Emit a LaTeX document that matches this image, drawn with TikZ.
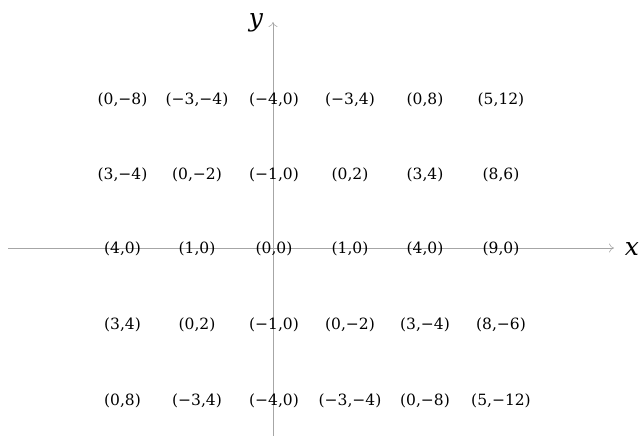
\documentclass[tikz,border=0pt]{standalone}
\usepackage{fontspec}
\newfontfamily\valfont{DejaVu Serif}
\usetikzlibrary{arrows.meta}
\begin{document}
\begin{tikzpicture}[x=1pt,y=-1pt,
  axis/.style={draw=black!35, line width=0.6pt, -{To[length=5pt,width=9pt]}},
  val/.style={font=\valfont\fontsize{15.5}{18}\selectfont, inner sep=0pt},
  axlab/.style={font=\valfont\itshape\fontsize{25}{28}\selectfont, inner sep=0pt}]
\useasboundingbox (0,0) rectangle (640,436);
\coordinate (xs) at (8,248);
\coordinate (xe) at (614,248);
\coordinate (ys) at (273,436);
\coordinate (ye) at (273,22);
\draw[axis] (xs) -- (xe);
\draw[axis] (ys) -- (ye);
\node[axlab] (xl) at (632,249) {x};
\node[axlab] (yl) at (256,23) {y};
% row 1
\node[val] (a11) at (122.5,100) {(0,−8)};
\node[val] (a12) at (197,100) {(−3,−4)};
\node[val] (a13) at (274,100) {(−4,0)};
\node[val] (a14) at (350,100) {(−3,4)};
\node[val] (a15) at (425,100) {(0,8)};
\node[val] (a16) at (501,100) {(5,12)};
% row 2
\node[val] (a21) at (122.5,175) {(3,−4)};
\node[val] (a22) at (197,175) {(0,−2)};
\node[val] (a23) at (274,175) {(−1,0)};
\node[val] (a24) at (350,175) {(0,2)};
\node[val] (a25) at (425,175) {(3,4)};
\node[val] (a26) at (501,175) {(8,6)};
% row 3
\node[val] (a31) at (122.5,249) {(4,0)};
\node[val] (a32) at (197,249) {(1,0)};
\node[val] (a33) at (274,249) {(0,0)};
\node[val] (a34) at (350,249) {(1,0)};
\node[val] (a35) at (425,249) {(4,0)};
\node[val] (a36) at (501,249) {(9,0)};
% row 4
\node[val] (a41) at (122.5,325) {(3,4)};
\node[val] (a42) at (197,325) {(0,2)};
\node[val] (a43) at (274,325) {(−1,0)};
\node[val] (a44) at (350,325) {(0,−2)};
\node[val] (a45) at (425,325) {(3,−4)};
\node[val] (a46) at (501,325) {(8,−6)};
% row 5
\node[val] (a51) at (122.5,401) {(0,8)};
\node[val] (a52) at (197,401) {(−3,4)};
\node[val] (a53) at (274,401) {(−4,0)};
\node[val] (a54) at (350,401) {(−3,−4)};
\node[val] (a55) at (425,401) {(0,−8)};
\node[val] (a56) at (501,401) {(5,−12)};
\end{tikzpicture}
\end{document}
